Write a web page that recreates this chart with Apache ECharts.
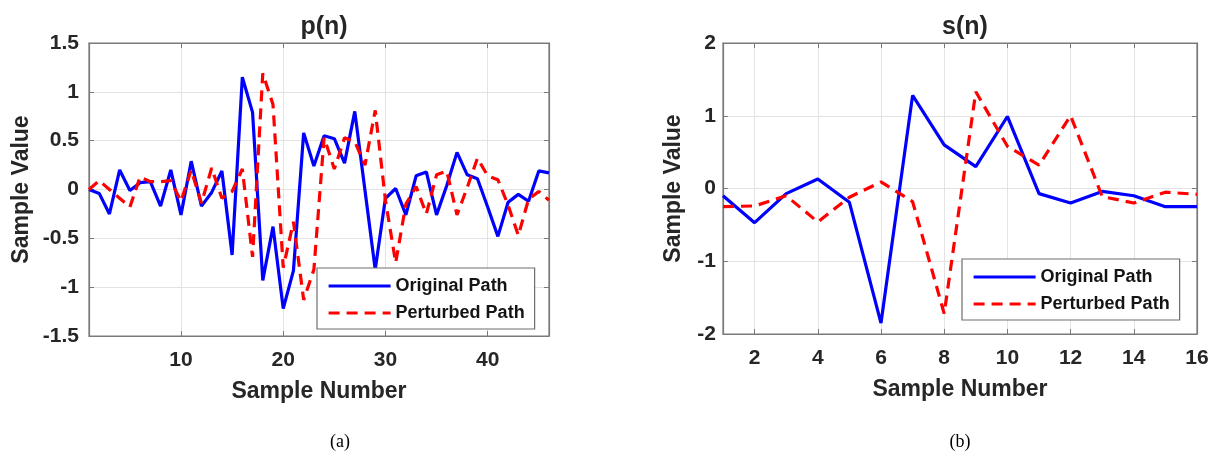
<!DOCTYPE html>
<html>
<head>
<meta charset="utf-8">
<script src="https://cdn.jsdelivr.net/npm/echarts@6/dist/echarts.min.js"></script>
<style>
  html, body { margin: 0; padding: 0; background: #fff; }
  #chart { width: 1219px; height: 454px; }
</style>
</head>
<body>
<div id="chart"></div>
<script>
// p(n): 46 samples, original and perturbed paths
const pOriginal = [0, -0.04, -0.25, 0.20, -0.01, 0.07, 0.08, -0.17, 0.20, -0.26,
  0.29, -0.17, -0.03, 0.19, -0.67, 1.15, 0.79, -0.93, -0.38, -1.22,
  -0.83, 0.58, 0.24, 0.55, 0.52, 0.27, 0.80, -0.01, -0.82, -0.09,
  0.01, -0.26, 0.14, 0.18, -0.26, 0.04, 0.38, 0.15, 0.11, -0.18,
  -0.48, -0.13, -0.05, -0.12, 0.19, 0.17];
const pPerturbed = [0, 0.09, 0.0, -0.09, -0.18, 0.13, 0.08, 0.08, 0.09, -0.12,
  0.20, -0.14, 0.22, -0.09, -0.02, 0.21, -0.69, 1.19, 0.87, -0.80,
  -0.33, -1.13, -0.82, 0.53, 0.21, 0.53, 0.49, 0.25, 0.81, -0.11,
  -0.75, -0.15, 0.03, -0.25, 0.15, 0.19, -0.26, 0.02, 0.32, 0.14,
  0.10, -0.16, -0.47, -0.10, -0.02, -0.11];

// s(n): 16 samples
const sOriginal = [-0.10, -0.47, -0.07, 0.13, -0.19, -1.85, 1.28, 0.60,
  0.30, 0.99, -0.07, -0.20, -0.04, -0.10, -0.25, -0.25];
const sPerturbed = [-0.25, -0.24, -0.10, -0.46, -0.12, 0.09, -0.18, -1.72,
  1.33, 0.58, 0.32, 1.00, -0.11, -0.20, -0.05, -0.08];

// tick positions
const pXTicks = [10, 20, 30, 40];
const sXTicks = [2, 4, 6, 8, 10, 12, 14, 16];

const seriesNames = ['Original Path', 'Perturbed Path'];
const titles = ['p(n)', 's(n)'];
const captions = ['(a)', '(b)'];
const xName = 'Sample Number';
const yName = 'Sample Value';

const FONT = '"Liberation Sans", Arial, Helvetica, sans-serif';
const TEXT = '#262626';
const FRAME = '#7a7a7a';
const GRIDLINE = '#e3e3e3';

const toPoints = arr => arr.map((v, i) => [i + 1, v]);

function bottomAxis(gridIndex, max, ticks) {
  return {
    type: 'value', gridIndex, position: 'bottom', min: 1, max: max,
    axisLine: { show: true, onZero: false, lineStyle: { color: FRAME, width: 1.2 } },
    axisTick: { show: true, inside: true, length: 5, customValues: ticks, lineStyle: { color: FRAME } },
    axisLabel: { show: true, customValues: ticks, margin: 14, fontFamily: FONT, fontSize: 21, fontWeight: 'bold', color: TEXT },
    splitLine: { show: true, lineStyle: { color: GRIDLINE, width: 1 } },
    name: xName, nameLocation: 'middle', nameGap: 44,
    nameTextStyle: { fontFamily: FONT, fontSize: 23, fontWeight: 'bold', color: TEXT }
  };
}
function topAxis(gridIndex, max, ticks) {
  return {
    type: 'value', gridIndex, position: 'top', min: 1, max: max,
    axisLine: { show: true, onZero: false, lineStyle: { color: FRAME, width: 1.2 } },
    axisTick: { show: true, inside: true, length: 5, customValues: ticks, lineStyle: { color: FRAME } },
    axisLabel: { show: false }, splitLine: { show: false }
  };
}
function leftAxis(gridIndex, min, max, interval, margin, nameGap) {
  return {
    type: 'value', gridIndex, position: 'left', min, max, interval,
    axisLine: { show: true, onZero: false, lineStyle: { color: FRAME, width: 1.2 } },
    axisTick: { show: true, inside: true, length: 5, lineStyle: { color: FRAME } },
    axisLabel: { margin, fontFamily: FONT, fontSize: 21, fontWeight: 'bold', color: TEXT },
    splitLine: { show: true, lineStyle: { color: GRIDLINE, width: 1 } },
    name: yName, nameLocation: 'middle', nameGap, nameRotate: 90,
    nameTextStyle: { fontFamily: FONT, fontSize: 23, fontWeight: 'bold', color: TEXT }
  };
}
function rightAxis(gridIndex, min, max, interval) {
  return {
    type: 'value', gridIndex, position: 'right', min, max, interval,
    axisLine: { show: true, onZero: false, lineStyle: { color: FRAME, width: 1.2 } },
    axisTick: { show: true, inside: true, length: 5, lineStyle: { color: FRAME } },
    axisLabel: { show: false }, splitLine: { show: false }
  };
}

function pathSeries(name, data, xAxisIndex, yAxisIndex, dashed) {
  return {
    name, type: 'line', xAxisIndex, yAxisIndex, data,
    symbol: 'none', animation: false, clip: true,
    lineStyle: dashed
      ? { color: '#ff0000', width: 3.2, type: [11, 7] }
      : { color: '#0000ff', width: 3.2 },
    itemStyle: { color: dashed ? '#ff0000' : '#0000ff' }
  };
}

// legend shows only the line sample (no marker)
function legendAt(left, top) {
  return {
    left, top, orient: 'vertical', data: seriesNames,
    itemWidth: 62, itemHeight: 14, itemGap: 9,
    padding: [9, 10, 7, 10],
    backgroundColor: '#ffffff', borderColor: '#6e6e6e', borderWidth: 1.2,
    selectedMode: false,
    itemStyle: { opacity: 0 },
    lineStyle: { width: 3.2 },
    textStyle: { fontFamily: FONT, fontSize: 18, fontWeight: 'bold', color: '#141414' }
  };
}

const chart = echarts.init(document.getElementById('chart'), null, { renderer: 'canvas' });
chart.setOption({
  backgroundColor: '#ffffff',
  animation: false,
  title: [
    { text: titles[0], left: 319, top: 10, textAlign: 'center',
      textStyle: { fontFamily: FONT, fontSize: 25, fontWeight: 'bold', color: TEXT } },
    { text: titles[1], left: 960, top: 10, textAlign: 'center',
      textStyle: { fontFamily: FONT, fontSize: 25, fontWeight: 'bold', color: TEXT } },
    { text: captions[0], left: 335, top: 428, textAlign: 'center',
      textStyle: { fontFamily: '"Liberation Serif", "Times New Roman", serif', fontSize: 18, fontWeight: 'normal', color: '#000' } },
    { text: captions[1], left: 955, top: 428, textAlign: 'center',
      textStyle: { fontFamily: '"Liberation Serif", "Times New Roman", serif', fontSize: 18, fontWeight: 'normal', color: '#000' } }
  ],
  grid: [
    { left: 89, top: 43, width: 460, height: 293, show: true, borderColor: FRAME, borderWidth: 1.2, backgroundColor: '#fff' },
    { left: 723, top: 43, width: 474, height: 291, show: true, borderColor: FRAME, borderWidth: 1.2, backgroundColor: '#fff' }
  ],
  xAxis: [
    bottomAxis(0, 46, pXTicks), topAxis(0, 46, pXTicks),
    bottomAxis(1, 16, sXTicks), topAxis(1, 16, sXTicks)
  ],
  yAxis: [
    leftAxis(0, -1.5, 1.5, 0.5, 10, 56), rightAxis(0, -1.5, 1.5, 0.5),
    leftAxis(1, -2, 2, 1, 7, 38), rightAxis(1, -2, 2, 1)
  ],
  legend: [legendAt(317, 268), legendAt(962, 259)],
  series: [
    pathSeries(seriesNames[0], toPoints(pOriginal), 0, 0, false),
    pathSeries(seriesNames[1], toPoints(pPerturbed), 0, 0, true),
    pathSeries(seriesNames[0], toPoints(sOriginal), 2, 2, false),
    pathSeries(seriesNames[1], toPoints(sPerturbed), 2, 2, true)
  ]
});
</script>
</body>
</html>
